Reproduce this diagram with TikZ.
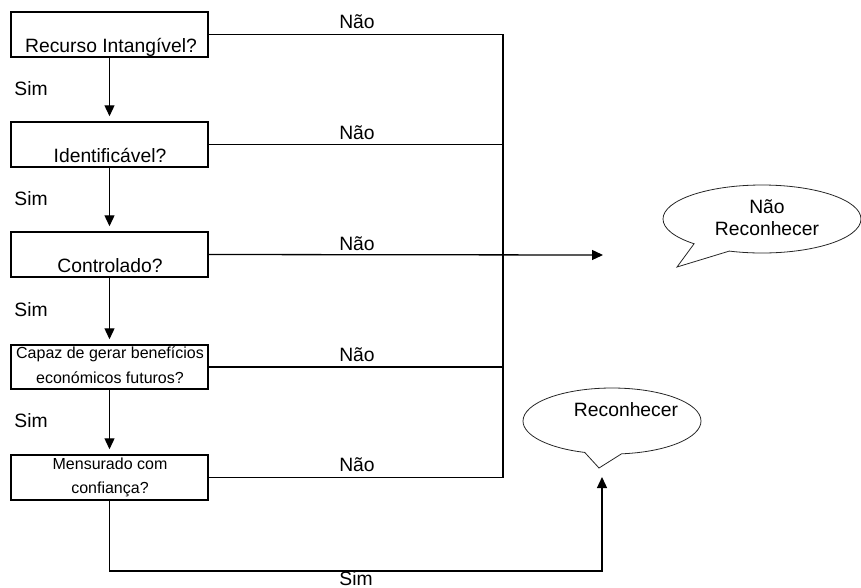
\documentclass[tikz,border=0pt]{standalone}
\usepackage{fontspec}
\setmainfont{Liberation Sans}
\usetikzlibrary{arrows.meta,shapes.callouts}
\begin{document}
\begin{tikzpicture}[x=1pt,y=-1pt,
  qbox/.style={draw,line width=1.5pt,minimum width=197pt,minimum height=45pt,inner sep=0pt},
  big/.style={font=\fontsize{19.3}{22}\selectfont,inner sep=0pt,anchor=base},
  small/.style={font=\fontsize{16}{18}\selectfont,inner sep=0pt,anchor=base},
  conn/.style={line width=1.3pt},
  arr/.style={conn,-{Triangle[length=11pt,width=10pt]}},
  bubble/.style={ellipse callout,draw=black!85,line width=0.8pt,inner sep=0pt,
    align=center,callout pointer arc=24}
]
\useasboundingbox (0,0) rectangle (861,587);

% question boxes
\node[qbox] (b1) at (109.5,34.5) {};
\node[qbox] (b2) at (109.5,144.5) {};
\node[qbox] (b3) at (109.5,254.5) {};
\node[qbox,minimum height=44pt] (b4) at (109.5,367) {};
\node[qbox] (b5) at (109.5,477.5) {};

\node[big] (t1) at (111,52) {Recurso Intangível?};
\node[big] (t2) at (110,162) {Identificável?};
\node[big] (t3) at (110,272) {Controlado?};
\node[small] (t4a) at (110,358) {Capaz de gerar benefícios};
\node[small] (t4b) at (110,383) {económicos futuros?};
\node[small] (t5a) at (110,469) {Mensurado com};
\node[small] (t5b) at (110,493) {confiança?};

% Sim labels
\node[big] (s1) at (31,95) {Sim};
\node[big] (s2) at (31,205) {Sim};
\node[big] (s3) at (31,316) {Sim};
\node[big] (s4) at (31,427) {Sim};
\node[big] (s5) at (356,585.5) {Sim};

% Nao labels
\node[big] (n1) at (357,28) {Não};
\node[big] (n2) at (357,139) {Não};
\node[big] (n3) at (357,250) {Não};
\node[big] (n4) at (357,361) {Não};
\node[big] (n5) at (357,471) {Não};

% callouts
\node[bubble,minimum width=198pt,minimum height=68pt,
  callout absolute pointer={(677,267)}] (c1) at (762,219) {};
\node[big] (c1a) at (767,213) {Não};
\node[big] (c1b) at (767,235) {Reconhecer};
\node[bubble,minimum width=178pt,minimum height=66pt,
  callout absolute pointer={(599,468)}] (c2) at (612,421) {};
\node[big] (c2a) at (626,416) {Reconhecer};

% connectors
\coordinate (bus) at (503,0);
\coordinate (ntip) at (603,255);
\coordinate (rc) at (602,571);
\coordinate (stip) at (602,477);

\draw[arr,shorten >=5pt] (b1.south) -- (b2.north);
\draw[arr,shorten >=5pt] (b2.south) -- (b3.north);
\draw[arr,shorten >=5pt] (b3.south) -- (b4.north);
\draw[arr,shorten >=5pt] (b4.south) -- (b5.north);

\draw[conn] (b1.east) -- (b1.east -| bus) -- (b5.east -| bus) -- (b5.east);
\draw[conn] (b2.east) -- (b2.east -| bus);
\draw[conn] (b4.east) -- (b4.east -| bus);
\draw[arr] (b3.east) -- (ntip);
\draw[arr] (b5.south) |- (rc) -- (stip);
\end{tikzpicture}
\end{document}
